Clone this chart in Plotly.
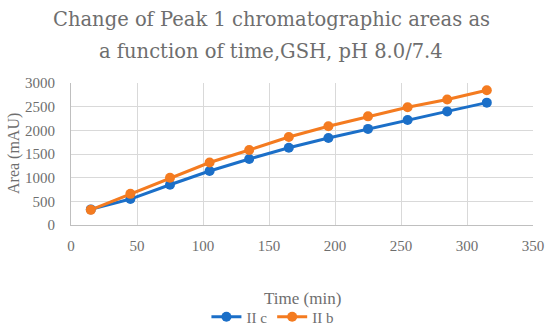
import plotly.graph_objects as go

time_min = [15, 45, 75, 105, 135, 165, 195, 225, 255, 285, 315]
area_IIc = [330, 548, 850, 1140, 1395, 1632, 1838, 2030, 2220, 2400, 2585]
area_IIb = [320, 658, 997, 1320, 1585, 1858, 2087, 2295, 2488, 2650, 2848]
series_names = ["II c", "II b"]
colors = ["#1B6FC8", "#F47B20"]
title_lines = ["Change of Peak 1 chromatographic areas as", "a function of time,GSH, pH 8.0/7.4"]
x_title = "Time (min)"
y_title = "Area (mAU)"

font_family = "Liberation Serif, serif"
title_family = "DejaVu Serif, serif"
gray = "#6E6E6E"

fig = go.Figure()
for name, ys, c in zip(series_names, [area_IIc, area_IIb], colors):
    fig.add_trace(go.Scatter(
        x=time_min, y=ys, name=name, mode="lines+markers",
        line=dict(color=c, width=3),
        marker=dict(color=c, size=10),
    ))

for txt, yp in zip(title_lines, [1.4507, 1.225]):
    fig.add_annotation(
        text=txt, xref="paper", yref="paper", x=0.433, y=yp,
        xanchor="center", yanchor="middle", showarrow=False,
        font=dict(family=title_family, size=19.5, color=gray),
    )
fig.add_annotation(
    text=x_title, xref="paper", yref="paper", x=0.5, y=-0.52,
    xanchor="center", yanchor="middle", showarrow=False,
    font=dict(family=font_family, size=17, color=gray),
)
fig.add_annotation(
    text=y_title, xref="paper", yref="paper", x=-0.1234, y=0.507,
    xanchor="center", yanchor="middle", showarrow=False, textangle=-90,
    font=dict(family=font_family, size=16, color=gray),
)

fig.update_layout(
    width=550, height=331,
    paper_bgcolor="white", plot_bgcolor="white",
    margin=dict(l=71, r=17, t=83, b=106, autoexpand=False),
    font=dict(family=font_family, size=15, color=gray),
    showlegend=True,
    legend=dict(
        orientation="h", x=0.436, xanchor="center", y=-0.648, yanchor="middle",
        font=dict(family=font_family, size=15, color=gray),
        itemwidth=30,
    ),
    xaxis=dict(
        range=[0, 350], dtick=50, tick0=0, automargin=False,
        showgrid=True, gridcolor="#D9D9D9", gridwidth=1,
        showline=True, linecolor="#BFBFBF", linewidth=1,
        zeroline=False, ticks="", ticklabelstandoff=7,
        tickfont=dict(family=font_family, size=15, color=gray),
    ),
    yaxis=dict(
        range=[0, 3000], dtick=500, tick0=0, automargin=False,
        showgrid=True, gridcolor="#D9D9D9", gridwidth=1,
        showline=True, linecolor="#BFBFBF", linewidth=1,
        zeroline=False, ticks="", ticklabelstandoff=12,
        tickfont=dict(family=font_family, size=15, color=gray),
    ),
)
fig.write_html("out.html", config={"displayModeBar": False},
               post_script="document.body.style.margin='0';")
